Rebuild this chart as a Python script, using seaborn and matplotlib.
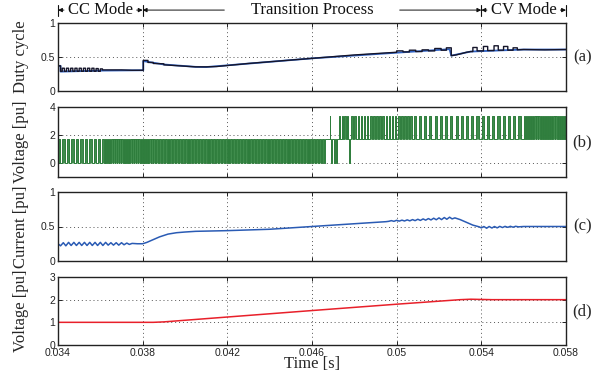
import matplotlib
matplotlib.use("Agg")
import matplotlib.pyplot as plt
import matplotlib.transforms as mtransforms
import numpy as np
import pandas as pd
import seaborn as sns

# ---------------------------------------------------------------- data
x_ticks = [0.034, 0.038, 0.042, 0.046, 0.050, 0.054, 0.058]
x_tick_labels = ["0.034", "0.038", "0.042", "0.046", "0.05", "0.054", "0.058"]

# (a) duty cycle: CC-mode ripple, transition ramp, CV-mode ripple
duty_cc_t = [0.03400, 0.03412, 0.03412,
             0.03420, 0.03420, 0.03430, 0.03430,
             0.03440, 0.03440, 0.03450, 0.03450,
             0.03460, 0.03460, 0.03470, 0.03470,
             0.03480, 0.03480, 0.03490, 0.03490,
             0.03500, 0.03500, 0.03510, 0.03510,
             0.03520, 0.03520, 0.03530, 0.03530,
             0.03540, 0.03540, 0.03550, 0.03550,
             0.03560, 0.03560, 0.03570, 0.03570,
             0.03580, 0.03580, 0.03590, 0.03590,
             0.03600, 0.03600, 0.03610, 0.03610,
             0.03700, 0.03750, 0.03803]
duty_cc_v = [0.37, 0.37, 0.29,
             0.29, 0.335, 0.335, 0.29,
             0.29, 0.335, 0.335, 0.29,
             0.29, 0.335, 0.335, 0.29,
             0.29, 0.335, 0.335, 0.29,
             0.29, 0.335, 0.335, 0.29,
             0.29, 0.335, 0.335, 0.29,
             0.29, 0.335, 0.335, 0.29,
             0.29, 0.335, 0.335, 0.29,
             0.29, 0.33, 0.33, 0.29,
             0.29, 0.325, 0.325, 0.31,
             0.31, 0.305, 0.305]
duty_ramp_t = [0.03803, 0.03825, 0.03825, 0.03850, 0.03850, 0.03900, 0.03900,
               0.03950, 0.04000, 0.04050, 0.04100, 0.04150, 0.04200, 0.04300,
               0.04400, 0.04500, 0.04600, 0.04700, 0.04800, 0.04900, 0.05000,
               0.05000, 0.05030, 0.05030, 0.05060, 0.05060, 0.05090, 0.05090,
               0.05120, 0.05120, 0.05150, 0.05150, 0.05180, 0.05180, 0.05210,
               0.05210, 0.05235, 0.05235, 0.05258, 0.05258]
duty_ramp_v = [0.45, 0.45, 0.42, 0.42, 0.405, 0.40, 0.385,
               0.375, 0.365, 0.355, 0.355, 0.36, 0.375, 0.405,
               0.43, 0.455, 0.48, 0.505, 0.53, 0.55, 0.57,
               0.59, 0.59, 0.575, 0.575, 0.60, 0.60, 0.58,
               0.58, 0.605, 0.605, 0.59, 0.59, 0.625, 0.625,
               0.60, 0.60, 0.635, 0.635, 0.52]
duty_cv_t = [0.05280, 0.05300, 0.05330, 0.05350,
             0.05360, 0.05360, 0.05380, 0.05380,
             0.05410, 0.05410, 0.05430, 0.05430,
             0.05460, 0.05460, 0.05480, 0.05480,
             0.05505, 0.05505, 0.05525, 0.05525,
             0.05550, 0.05550, 0.05570, 0.05570,
             0.05600, 0.05700, 0.05800]
duty_cv_v = [0.53, 0.545, 0.57, 0.58,
             0.58, 0.64, 0.64, 0.59,
             0.59, 0.655, 0.655, 0.595,
             0.595, 0.665, 0.665, 0.60,
             0.60, 0.655, 0.655, 0.60,
             0.60, 0.635, 0.635, 0.605,
             0.61, 0.605, 0.61]
duty_ref_t = [0.03400, 0.03412, 0.03412, 0.03610, 0.03803, 0.03803, 0.03900,
              0.04050, 0.04100, 0.04600, 0.05250, 0.05258, 0.05350, 0.05600, 0.05800]
duty_ref_v = [0.37, 0.37, 0.285, 0.30, 0.305, 0.44, 0.39,
              0.355, 0.352, 0.48, 0.615, 0.52, 0.58, 0.61, 0.61]

# (b) converter voltage: pulse trains (start, end, pulse count, base, pulse level, on fraction)
pwm_t0 = [0.03400, 0.03610, 0.03850, 0.04660, 0.04683, 0.04690, 0.04728, 0.04776, 0.04786, 0.05080, 0.05600]
pwm_t1 = [0.03610, 0.03850, 0.04660, 0.04683, 0.04690, 0.04728, 0.04776, 0.04786, 0.05080, 0.05600, 0.05800]
pwm_n = [10, 24, 60, 0, 1, 3, 4, 1, 20, 21, 20]
pwm_base = [0.0, 0.0, 0.0, 1.7, 1.7, 1.7, 1.7, 1.7, 1.7, 1.7, 1.7]
pwm_level = [1.7, 1.7, 1.7, 1.7, 3.35, 0.0, 3.35, 0.0, 3.35, 3.35, 3.35]
pwm_on = [0.55, 0.75, 0.68, 0.0, 0.5, 0.3, 0.55, 0.4, 0.5, 0.4, 0.6]

# (c) inductor current
cur_t = [0.03400, 0.03412, 0.03425, 0.03437, 0.03450, 0.03462, 0.03475, 0.03487,
         0.03500, 0.03512, 0.03525, 0.03537, 0.03550, 0.03562, 0.03575, 0.03587,
         0.03600, 0.03612, 0.03625, 0.03637, 0.03650, 0.03662, 0.03675, 0.03687,
         0.03700, 0.03712, 0.03725, 0.03737, 0.03750, 0.03775, 0.03800,
         0.03820, 0.03850, 0.03880, 0.03920, 0.03960, 0.04000, 0.04050, 0.04200,
         0.04400, 0.04600, 0.04800, 0.04950,
         0.04962, 0.04975, 0.04987, 0.05000, 0.05012, 0.05025, 0.05037, 0.05050,
         0.05062, 0.05075, 0.05087, 0.05100, 0.05112, 0.05125, 0.05137, 0.05150,
         0.05162, 0.05175, 0.05187, 0.05200, 0.05212, 0.05225, 0.05237, 0.05250,
         0.05262, 0.05275, 0.05300, 0.05330, 0.05360, 0.05390,
         0.05400, 0.05412, 0.05425, 0.05437, 0.05450, 0.05462, 0.05475, 0.05487,
         0.05500, 0.05512, 0.05525, 0.05537, 0.05550, 0.05562, 0.05575, 0.05600,
         0.05650, 0.05700, 0.05750, 0.05800]
cur_v = [0.25, 0.22, 0.265, 0.22, 0.27, 0.225, 0.27, 0.225,
         0.27, 0.225, 0.27, 0.225, 0.27, 0.225, 0.27, 0.225,
         0.27, 0.225, 0.27, 0.23, 0.265, 0.23, 0.265, 0.23,
         0.265, 0.235, 0.26, 0.24, 0.255, 0.25, 0.25,
         0.27, 0.31, 0.35, 0.39, 0.41, 0.42, 0.43, 0.44,
         0.46, 0.50, 0.54, 0.57,
         0.575, 0.585, 0.575, 0.590, 0.578, 0.592, 0.580, 0.596,
         0.582, 0.600, 0.585, 0.605, 0.588, 0.610, 0.592, 0.615,
         0.595, 0.620, 0.598, 0.625, 0.600, 0.630, 0.605, 0.635,
         0.610, 0.625, 0.60, 0.56, 0.52, 0.495,
         0.48, 0.50, 0.475, 0.50, 0.478, 0.50, 0.48, 0.502,
         0.485, 0.502, 0.488, 0.503, 0.49, 0.503, 0.495, 0.50,
         0.50, 0.50, 0.50, 0.50]

# (d) output voltage
vout_t = [0.0340, 0.0385, 0.0390, 0.0460, 0.0500, 0.0530, 0.0535, 0.0545, 0.0580]
vout_v = [1.00, 1.00, 1.02, 1.52, 1.80, 2.00, 2.02, 2.00, 2.00]

panel_tags = ["(a)", "(b)", "(c)", "(d)"]
y_titles = ["Duty cycle", "Voltage [pu]", "Current [pu]", "Voltage [pu]"]
y_limits = [(0, 1), (-1, 4), (0, 1), (0, 3)]
y_ticks = [[0, 0.5, 1], [0, 2, 4], [0, 0.5, 1], [0, 1, 2, 3]]
y_tick_labels = [["0", "0.5", "1"], ["0", "2", "4"], ["0", "0.5", "1"], ["0", "1", "2", "3"]]

# ---------------------------------------------------------------- build the switched waveform
pwm_x, pwm_y, pwm_b = [], [], []
for t0, t1, n, base, lev, on in zip(pwm_t0, pwm_t1, pwm_n, pwm_base, pwm_level, pwm_on):
    if n == 0:
        pwm_x += [t0, t1]
        pwm_y += [base, base]
        pwm_b += [base, base]
        continue
    period = (t1 - t0) / n
    for k in range(n):
        tr = t0 + k * period
        tf = tr + on * period
        pwm_x += [tr, tr, tf, tf]
        pwm_y += [base, lev, lev, base]
        pwm_b += [base] * 4
    pwm_x.append(t1)
    pwm_y.append(base)
    pwm_b.append(base)

duty_df = pd.DataFrame({"t": duty_cc_t + duty_ramp_t + duty_cv_t,
                        "v": duty_cc_v + duty_ramp_v + duty_cv_v})
duty_ref_df = pd.DataFrame({"t": duty_ref_t, "v": duty_ref_v})
pwm_df = pd.DataFrame({"t": pwm_x, "v": pwm_y, "base": pwm_b})
cur_df = pd.DataFrame({"t": cur_t, "v": cur_v})
vout_df = pd.DataFrame({"t": vout_t, "v": vout_v})

# ---------------------------------------------------------------- style
sns.set_theme(style="white")
plt.rcParams["font.family"] = ["Liberation Serif", "DejaVu Serif"]
plt.rcParams["axes.edgecolor"] = "#222222"
plt.rcParams["axes.linewidth"] = 1.0

fig = plt.figure(figsize=(6.06, 3.81), dpi=100)
left, width = 58 / 606, 508 / 606
rows = [(23, 91), (107, 177), (192, 261), (277, 345)]
axes = [fig.add_axes([left, 1 - b / 381, width, (b - t) / 381]) for t, b in rows]

green = "#2e7d3c"
line_kw = dict(estimator=None, sort=False, legend=False)
sns.lineplot(data=duty_ref_df, x="t", y="v", ax=axes[0], color="#2f62c4", lw=1.3, **line_kw)
sns.lineplot(data=duty_df, x="t", y="v", ax=axes[0], color="#15152a", lw=1.0, **line_kw)
axes[1].fill_between(pwm_df["t"], pwm_df["base"], pwm_df["v"], color="#3f8c4c", lw=0)
sns.lineplot(data=pwm_df, x="t", y="v", ax=axes[1], color=green, lw=0.7, **line_kw)
sns.lineplot(data=cur_df, x="t", y="v", ax=axes[2], color="#2a5bb4", lw=1.1, **line_kw)
sns.lineplot(data=vout_df, x="t", y="v", ax=axes[3], color="#e8202a", lw=1.1, **line_kw)

for i, ax in enumerate(axes):
    ax.set_xlim(0.034, 0.058)
    ax.set_ylim(*y_limits[i])
    ax.set_xticks(x_ticks)
    ax.set_yticks(y_ticks[i])
    ax.set_yticklabels(y_tick_labels[i], family="Liberation Sans", fontsize=7.5)
    if i == 3:
        ax.set_xticklabels(x_tick_labels, family="Liberation Sans", fontsize=7.5)
        ax.set_xlabel("Time [s]", fontsize=12, labelpad=-1)
    else:
        ax.set_xticklabels([])
        ax.set_xlabel("")
    ax.set_ylabel(y_titles[i], fontsize=12)
    ax.yaxis.set_label_coords(-0.058, 0.5)
    ax.tick_params(direction="in", length=3, width=0.7, top=True, right=True,
                   bottom=True, left=True, pad=2, colors="#222222")
    ax.grid(True, linestyle=(0, (1, 3)), color="#555555", lw=0.7)
    for s in ax.spines.values():
        s.set_visible(True)
        s.set_color("#222222")
        s.set_linewidth(1.0)
    ax.text(1.032, 0.5, panel_tags[i], transform=ax.transAxes, ha="center",
            va="center", fontsize=12)

# ---------------------------------------------------------------- operating-mode header
ax0 = axes[0]
trans = mtransforms.blended_transform_factory(ax0.transData, ax0.transAxes)
yh = 1.19
for xb in [0.034, 0.038, 0.054, 0.058]:
    ax0.plot([xb, xb], [yh - 0.08, yh + 0.08], transform=trans, clip_on=False,
             color="#111111", lw=0.8)

arrow_kw = dict(arrowstyle="-|>", lw=0.7, color="#111111", shrinkA=1, shrinkB=0,
                mutation_scale=6)
modes = [("CC Mode", 0.0360, 0.034, 0.038, 0.15),
         ("Transition Process", 0.0460, 0.038, 0.054, 1.5),
         ("CV Mode", 0.0560, 0.054, 0.058, 0.15)]
for label, xc, xl, xr, pad in modes:
    for k, xe in enumerate([xl, xr]):
        ax0.annotate(label, xy=(xe, yh), xycoords=trans, xytext=(xc, yh),
                     textcoords=trans, ha="center", va="center", fontsize=12,
                     color="#111111" if k == 0 else "none",
                     bbox=dict(boxstyle=f"square,pad={pad}", fc="none", ec="none"),
                     arrowprops=arrow_kw, annotation_clip=False)

fig.savefig("out.png", dpi=100)
